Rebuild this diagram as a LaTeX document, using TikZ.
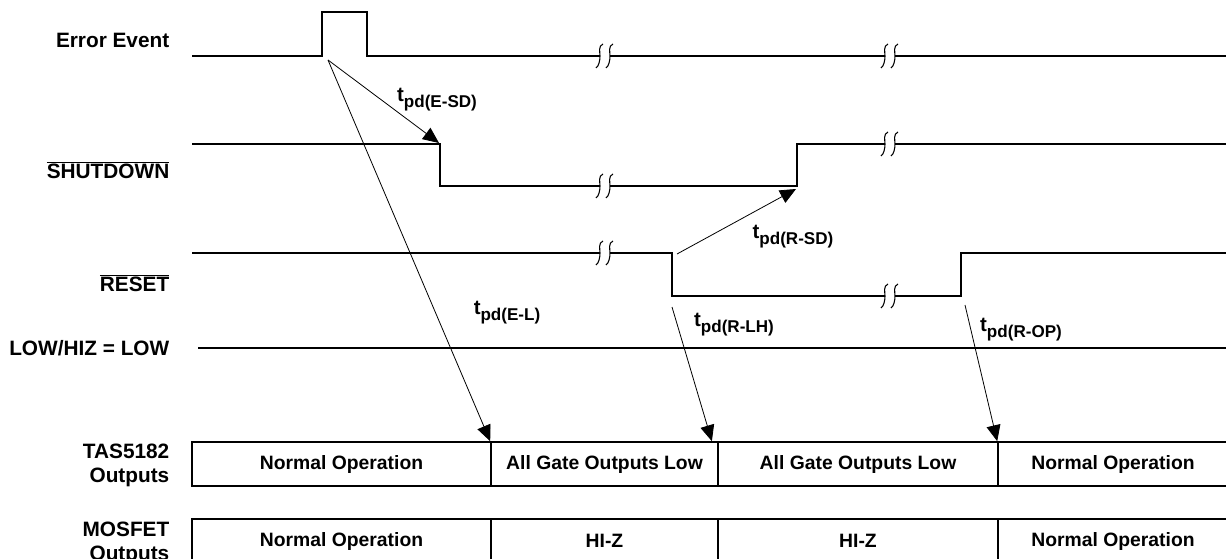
\documentclass[tikz,border=0pt]{standalone}
\usepackage{fontspec}
\setmainfont{Liberation Sans}
\usetikzlibrary{arrows.meta, positioning, calc}

\newcommand{\tpd}[1]{t\raisebox{-0.55ex}{\fontsize{12.8}{13}\selectfont pd(#1)}}

\tikzset{
    sig/.style={line width=1.5pt},
    delay/.style={line width=0.6pt, -{Triangle[length=12pt,width=10.5pt]}},
    sname/.style={anchor=east, align=right, font=\bfseries\fontsize{15.6}{18}\selectfont},
    tname/.style={font=\bfseries\fontsize{15.3}{17}\selectfont},
    cell/.style={draw, line width=1.2pt, minimum height=33pt, inner sep=0pt, font=\bfseries\fontsize{14.5}{17}\selectfont},
    sbreak/.pic={
        \fill[white] (-5,-4) rectangle (5,4);
        \draw[line width=0.8pt] (-2,-12) .. controls (-7,-10) and (-5,-4) .. (-5,0) .. controls (-5,4) and (-6,10) .. (-9,12);
        \draw[line width=0.8pt] (8,-12) .. controls (3,-10) and (5,-4) .. (5,0) .. controls (5,4) and (4,10) .. (1,12);
    }
}

\begin{document}
\begin{tikzpicture}[x=0.75pt, y=-0.75pt]
    \useasboundingbox (0,0) rectangle (1226,559);

    % Signal names
    \node[sname] (nerr) at (174,40) {Error Event};
    \node[sname] (nsd) at (174,170) {$\overline{\mbox{SHUTDOWN}}$};
    \node[sname] (nrst) at (174,283) {$\overline{\mbox{RESET}}$};
    \node[sname] (nhiz) at (174,348) {LOW/HIZ = LOW};
    \node[sname] (ntas) at (174,465) {TAS5182\\Outputs};
    \node[sname] (nmos) at (174,543) {MOSFET\\Outputs};

    % Waveforms
    \draw[sig] (192,56) -- (322,56) -- (322,12) -- (367,12) -- (367,56) -- (1230,56);
    \draw[sig] (192,144) -- (440,144) -- (440,186) -- (797,186) -- (797,144) -- (1230,144);
    \draw[sig] (192,253) -- (672,253) -- (672,296) -- (961,296) -- (961,253) -- (1230,253);
    \draw[sig] (198,348) -- (1230,348);

    % Time breaks
    \pic at (605,56) {sbreak};
    \pic at (890,56) {sbreak};
    \pic at (605,186) {sbreak};
    \pic at (890,144) {sbreak};
    \pic at (605,253) {sbreak};
    \pic at (890,296) {sbreak};

    % Output states
    \node[cell, minimum width=224.25pt] (tas1) at (341.5,464) {Normal Operation};
    \node[cell, minimum width=170.25pt] (tas2) at (604.5,464) {All Gate Outputs Low};
    \node[cell, minimum width=210pt] (tas3) at (858,464) {All Gate Outputs Low};
    \node[cell, minimum width=172.5pt] (tas4) at (1113,464) {Normal Operation};
    \node[cell, minimum width=224.25pt] (mos1) at (341.5,541) {Normal Operation};
    \node[cell, minimum width=170.25pt] (mos2) at (604.5,541) {HI-Z};
    \node[cell, minimum width=210pt] (mos3) at (858,541) {HI-Z};
    \node[cell, minimum width=172.5pt] (mos4) at (1113,541) {Normal Operation};

    % Delay arrows
    \coordinate (err) at (328,60);
    \coordinate (sdfall) at (439,143);
    \coordinate (rstfall) at (677,254);
    \coordinate (sdrise) at (796,189);
    \coordinate (rstlow) at (672,307);
    \coordinate (rstrise) at (965,305);
    \draw[delay] (err) -- (sdfall);
    \draw[delay] (err) -- (tas2.north west);
    \draw[delay] (rstfall) -- (sdrise);
    \draw[delay] (rstlow) -- ([xshift=-4pt]tas3.north west);
    \draw[delay] (rstrise) -- (tas4.north west);

    % Delay names
    \node[tname] (tesd) at (437,100) {\tpd{E-SD}};
    \node[tname] (trsd) at (793,237) {\tpd{R-SD}};
    \node[tname] (tel) at (507,313) {\tpd{E-L}};
    \node[tname] (trlh) at (734,325) {\tpd{R-LH}};
    \node[tname] (trop) at (1021,330) {\tpd{R-OP}};
\end{tikzpicture}
\end{document}
